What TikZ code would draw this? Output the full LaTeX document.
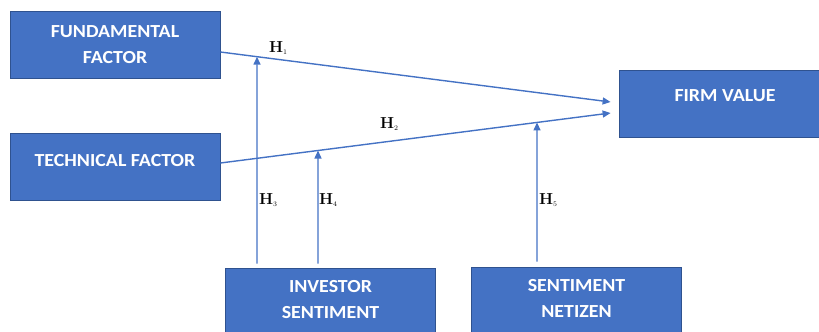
\documentclass[tikz,border=0pt]{standalone}
\usepackage{fontspec}
\usetikzlibrary{arrows.meta,calc}
\newfontfamily\boxfont{Carlito}[FakeStretch=1.08]
\definecolor{boxblue}{HTML}{4472C4}
\definecolor{boxedge}{HTML}{2F528F}
\newcommand{\hyp}[1]{\textbf{H}\raisebox{-1.5bp}{\fontsize{7}{7}\selectfont #1}}
\begin{document}
\begin{tikzpicture}[x=1bp,y=-1bp,
  box/.style={draw=boxedge, line width=0.8bp, fill=boxblue, text=white,
    font=\boxfont\bfseries\fontsize{18.5}{26}\selectfont, align=center,
    minimum width=210bp, minimum height=67bp, inner sep=0pt},
  link/.style={draw=boxblue, line width=1.4bp,
    -{Triangle[width=7bp,length=8bp]}},
  hlabel/.style={anchor=west, inner sep=0pt, font=\fontsize{16}{16}\selectfont}]
  \useasboundingbox (0,0) rectangle (819,331);

  % variable boxes
  \node[box] (fund) at (115,44.5) {FUNDAMENTAL\\FACTOR};
  \node[box, text depth=14bp] (tech) at (115,167) {TECHNICAL FACTOR};
  \node[box, minimum width=212bp, text depth=15bp] (firm) at (725,103.5) {FIRM VALUE};
  \node[box, text depth=4bp] (inv) at (330.5,301.5) {INVESTOR\\SENTIMENT};
  \node[box, text depth=4bp] (net) at (576.5,300.5) {SENTIMENT\\NETIZEN};

  % direct effects
  \coordinate (l1s) at ([yshift=-7.5bp]fund.east);
  \coordinate (l1e) at ([xshift=-8bp,yshift=1.5bp]firm.west);
  \coordinate (l2s) at ([yshift=4bp]tech.east);
  \coordinate (l2e) at ([xshift=-8bp,yshift=-9.5bp]firm.west);
  \draw[link] (l1s) -- (l1e);
  \draw[link] (l2s) -- (l2e);

  % moderating effects
  \coordinate (m3) at ([xshift=-73.5bp,yshift=4bp]inv.north);
  \coordinate (m4) at ([xshift=-12.5bp,yshift=4bp]inv.north);
  \coordinate (m5) at ([xshift=-39.5bp,yshift=5bp]net.north);
  \draw[link] (m3) -- (intersection of m3--{$(m3)+(0,-10)$} and l1s--l1e);
  \draw[link] (m4) -- (intersection of m4--{$(m4)+(0,-10)$} and l2s--l2e);
  \draw[link] (m5) -- (intersection of m5--{$(m5)+(0,-10)$} and l2s--l2e);

  % hypothesis labels
  \node[hlabel] (h1) at (269,48) {\hyp{1}};
  \node[hlabel] (h2) at (380,124) {\hyp{2}};
  \node[hlabel] (h3) at (259,200) {\hyp{3}};
  \node[hlabel] (h4) at (319,200) {\hyp{4}};
  \node[hlabel] (h5) at (539,200) {\hyp{5}};
\end{tikzpicture}
\end{document}
